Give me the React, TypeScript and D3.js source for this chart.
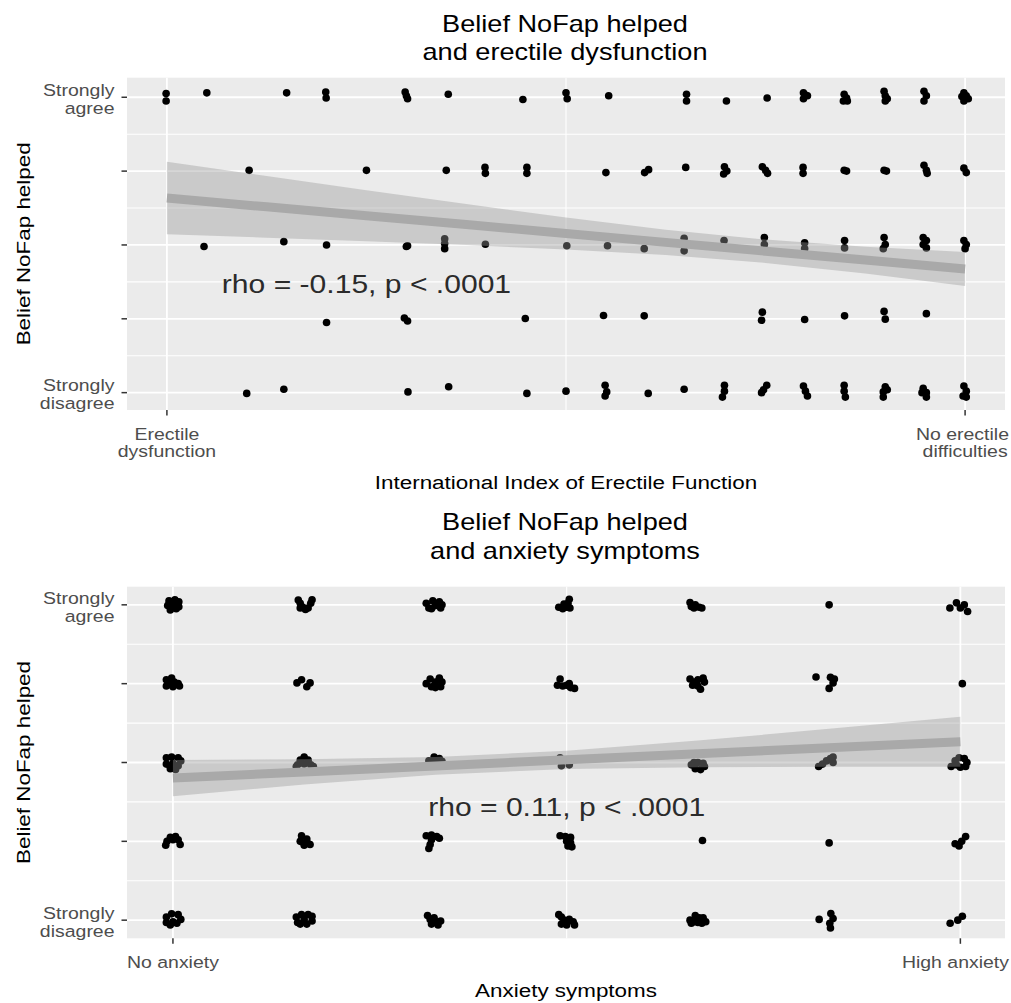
import React from "react";
import * as d3 from "d3";

type Pt = [number, number, number, number]; // [x level, y level, x jitter, y jitter]

// ---------- shared Likert axis ----------
const likertLevels = [1, 2, 3, 4, 5];
const likertMinor = [1.5, 2.5, 3.5, 4.5];
const likertTickLabels: string[][] = [["Strongly", "disagree"], [], [], [], ["Strongly", "agree"]];
const yAxisTitle = "Belief NoFap helped";

// ---------- panel 1: erectile function ----------
const edTitle = ["Belief NoFap helped", "and erectile dysfunction"];
const edXTitle = "International Index of Erectile Function";
const edXTicks = [5, 25];
const edXMinor = [15];
const edXTickLabels: string[][] = [["Erectile", "dysfunction"], ["No erectile", "difficulties"]];
const edRhoLabel = "rho = -0.15, p < .0001";
const edRhoPos = [10, 2.47];
const edFitX = [5, 7.5, 10, 12.5, 15, 17.5, 20, 22.5, 25];
const edFitY = [3.636, 3.516, 3.396, 3.276, 3.155, 3.035, 2.915, 2.795, 2.675];
const edFitLower = [3.145, 3.099, 3.051, 2.999, 2.938, 2.863, 2.757, 2.614, 2.445];
const edFitUpper = [4.127, 3.933, 3.741, 3.553, 3.372, 3.207, 3.073, 2.976, 2.905];
const edPoints: Pt[] = [
  // Strongly agree
  [5, 5, -0.02, 0.05], [5, 5, -0.02, -0.05],
  [6, 5, 0, 0.06],
  [8, 5, 0, 0.06],
  [9, 5, -0.02, 0.07], [9, 5, -0.01, -0.01],
  [11, 5, -0.03, 0.07], [11, 5, 0, 0.02], [11, 5, 0.03, -0.02],
  [12, 5, 0.05, 0.04],
  [14, 5, -0.08, -0.03],
  [15, 5, 0, 0.06], [15, 5, 0.03, -0.02],
  [16, 5, 0.07, 0.02],
  [18, 5, 0.02, 0.04], [18, 5, 0.02, -0.05],
  [19, 5, 0.02, -0.05],
  [20, 5, 0.04, -0.01],
  [21, 5, -0.05, 0.06], [21, 5, 0, 0.03], [21, 5, 0.05, 0.02], [21, 5, -0.05, -0.02],
  [22, 5, -0.03, 0.04], [22, 5, 0.03, -0.01], [22, 5, 0.05, -0.05], [22, 5, -0.05, -0.05],
  [23, 5, -0.03, 0.08], [23, 5, 0, 0.02], [23, 5, 0, -0.05], [23, 5, 0.05, -0.02],
  [24, 5, -0.03, 0.08], [24, 5, 0.03, 0.02], [24, 5, -0.03, -0.05],
  [25, 5, -0.03, 0.06], [25, 5, 0.03, 0.02], [25, 5, 0.08, -0.02], [25, 5, -0.03, -0.05], [25, 5, -0.08, 0.01],
  // 4
  [7, 4, 0.06, 0.01],
  [10, 4, 0, 0.01],
  [12, 4, 0, 0.01],
  [13, 4, -0.03, 0.05], [13, 4, -0.02, -0.03],
  [14, 4, 0.02, 0.05], [14, 4, 0.02, -0.03],
  [16, 4, 0, -0.02],
  [17, 4, -0.03, -0.02], [17, 4, 0.07, 0.02],
  [18, 4, 0, 0.05],
  [19, 4, -0.03, 0.06], [19, 4, 0.03, 0], [19, 4, -0.05, -0.04],
  [20, 4, -0.08, 0.06], [20, 4, 0, 0.01], [20, 4, 0.05, -0.03],
  [21, 4, -0.06, 0.05], [21, 4, -0.06, -0.03],
  [22, 4, -0.03, 0.01], [22, 4, 0.03, 0],
  [23, 4, -0.03, 0.01], [23, 4, 0.03, 0],
  [24, 4, -0.03, 0.08], [24, 4, 0.03, 0.01], [24, 4, 0.05, -0.03],
  [25, 4, -0.03, 0.04], [25, 4, 0.03, -0.02],
  // 3
  [6, 3, -0.07, -0.02],
  [8, 3, -0.07, 0.045],
  [9, 3, 0, 0],
  [11, 3, 0, -0.02], [11, 3, 0.03, -0.01],
  [12, 3, -0.04, 0.085], [12, 3, -0.04, 0.02], [12, 3, -0.04, -0.05],
  [13, 3, -0.02, 0.01],
  [15, 3, 0.02, -0.01],
  [16, 3, 0.04, -0.01],
  [17, 3, -0.04, -0.05],
  [18, 3, -0.04, 0.09], [18, 3, -0.04, -0.08],
  [19, 3, -0.04, 0.06],
  [20, 3, -0.03, 0.1], [20, 3, -0.03, 0.005],
  [21, 3, -0.02, 0.03], [21, 3, -0.02, -0.05],
  [22, 3, -0.02, 0.06], [22, 3, -0.02, -0.04],
  [23, 3, -0.03, 0.1], [23, 3, 0, 0.005], [23, 3, -0.05, -0.05],
  [24, 3, -0.05, 0.1], [24, 3, 0.03, 0.06], [24, 3, -0.05, 0.005], [24, 3, 0.03, -0.04],
  [25, 3, -0.03, 0.06], [25, 3, 0.03, 0.005], [25, 3, 0, -0.05],
  // 2
  [9, 2, 0, -0.05],
  [11, 2, -0.05, 0.01], [11, 2, 0.03, -0.03],
  [14, 2, -0.02, 0.005],
  [16, 2, -0.06, 0.045],
  [17, 2, -0.04, 0.04],
  [20, 2, -0.08, 0.09], [20, 2, -0.1, -0.02],
  [21, 2, -0.02, -0.01],
  [22, 2, -0.02, 0.04],
  [23, 2, -0.03, 0.1], [23, 2, 0, -0.005],
  [24, 2, 0.03, 0.07],
  // Strongly disagree
  [7, 1, 0, -0.01],
  [8, 1, -0.07, 0.045],
  [11, 1, 0.04, 0.01],
  [12, 1, 0.06, 0.08],
  [14, 1, 0.02, -0.01],
  [15, 1, 0, 0.02],
  [16, 1, -0.02, 0.1], [16, 1, 0.02, 0.01], [16, 1, -0.02, -0.045],
  [17, 1, 0.06, -0.01],
  [18, 1, -0.04, 0.045],
  [19, 1, -0.03, 0.1], [19, 1, -0.03, 0.02], [19, 1, -0.08, -0.06],
  [20, 1, 0.03, 0.1], [20, 1, -0.05, 0.04], [20, 1, -0.1, 0],
  [21, 1, -0.05, 0.09], [21, 1, 0, 0.02], [21, 1, 0.05, -0.045],
  [22, 1, -0.03, 0.1], [22, 1, -0.03, 0.02], [22, 1, 0, -0.06],
  [23, 1, 0, 0.08], [23, 1, -0.05, 0.01], [23, 1, -0.05, -0.06], [23, 1, 0.05, 0.04],
  [24, 1, -0.05, 0.06], [24, 1, 0.03, 0], [24, 1, 0.03, -0.06], [24, 1, -0.08, 0],
  [25, 1, -0.03, 0.09], [25, 1, 0.03, 0.02], [25, 1, -0.05, -0.045], [25, 1, 0.03, -0.06],
];

// ---------- panel 2: anxiety ----------
const axTitle = ["Belief NoFap helped", "and anxiety symptoms"];
const axXTitle = "Anxiety symptoms";
const axXTicks = [0, 6];
const axXMinor = [3];
const axXTickLabels: string[][] = [["No anxiety"], ["High anxiety"]];
const axRhoLabel = "rho = 0.11, p < .0001";
const axRhoPos = [3, 2.43];
const axFitX = [0, 1, 2, 3, 4, 5, 6];
const axFitY = [2.803, 2.88, 2.957, 3.034, 3.11, 3.187, 3.264];
const axFitLower = [2.573, 2.72, 2.845, 2.918, 2.941, 2.947, 2.947];
const axFitUpper = [3.033, 3.04, 3.069, 3.15, 3.279, 3.427, 3.581];
const axPoints: Pt[] = [
  // Strongly agree
  [0, 5, -0.03, 0.05], [0, 5, 0.015, 0.065], [0, 5, 0.045, 0.04], [0, 5, -0.04, -0.01], [0, 5, 0.01, 0], [0, 5, 0.045, -0.025], [0, 5, -0.02, -0.065], [0, 5, 0.025, -0.05],
  [1, 5, -0.045, 0.06], [1, 5, -0.03, 0.02], [1, 5, 0.06, 0.065], [1, 5, 0.05, 0.02], [1, 5, -0.01, -0.03], [1, 5, 0.03, -0.04], [1, 5, 0.01, -0.06], [1, 5, -0.03, -0.04],
  [2, 5, -0.07, 0.02], [2, 5, -0.05, -0.04], [2, 5, -0.02, 0.05], [2, 5, 0, -0.01], [2, 5, 0.03, 0.04], [2, 5, 0.05, 0], [2, 5, 0.04, -0.04], [2, 5, -0.03, -0.05],
  [3, 5, -0.06, -0.03], [3, 5, -0.03, -0.05], [3, 5, 0, -0.03], [3, 5, 0.02, 0.07], [3, 5, 0.01, 0.02], [3, 5, -0.02, 0.01], [3, 5, 0.025, -0.04],
  [4, 5, -0.06, 0.03], [4, 5, -0.05, -0.02], [4, 5, -0.02, 0], [4, 5, 0.01, -0.03], [4, 5, 0.03, -0.04], [4, 5, -0.03, -0.04],
  [5, 5, 0, 0],
  [6, 5, -0.08, -0.04], [6, 5, -0.03, 0.025], [6, 5, 0.03, 0], [6, 5, 0.055, -0.085], [6, 5, 0, -0.04],
  // 4
  [0, 4, -0.05, 0.05], [0, 4, -0.01, 0.07], [0, 4, 0.01, 0.02], [0, 4, -0.05, -0.03], [0, 4, 0, -0.04], [0, 4, 0.05, -0.03], [0, 4, 0.04, 0], [0, 4, -0.03, 0],
  [1, 4, -0.055, 0.01], [1, 4, -0.02, 0.05], [1, 4, 0.045, 0.01], [1, 4, 0.02, -0.04],
  [2, 4, -0.07, 0], [2, 4, -0.04, 0.06], [2, 4, -0.03, -0.04], [2, 4, 0, 0.02], [2, 4, 0.03, 0.07], [2, 4, 0.05, 0.02], [2, 4, 0.04, -0.04], [2, 4, 0, -0.05],
  [3, 4, -0.07, -0.02], [3, 4, -0.05, 0.06], [3, 4, -0.03, -0.03], [3, 4, 0, -0.02], [3, 4, 0.03, -0.05], [3, 4, 0.06, -0.06], [3, 4, 0.02, 0],
  [4, 4, -0.06, 0.06], [4, 4, -0.03, 0.02], [4, 4, 0, 0.05], [4, 4, 0.04, 0.07], [4, 4, 0.05, 0.02], [4, 4, 0, -0.03], [4, 4, 0.02, -0.07], [4, 4, -0.04, -0.02],
  [5, 4, -0.1, 0.085], [5, 4, 0.01, 0.08], [5, 4, 0.04, 0.06], [5, 4, 0.03, 0.01], [5, 4, 0, -0.06],
  [6, 4, 0.015, 0],
  // 3
  [0, 3, -0.05, 0.06], [0, 3, -0.01, 0.07], [0, 3, 0.04, 0.06], [0, 3, 0.06, 0.02], [0, 3, -0.05, -0.02], [0, 3, 0, -0.01], [0, 3, 0.04, -0.04], [0, 3, -0.02, -0.08], [0, 3, 0.02, -0.09],
  [1, 3, 0, 0.07], [1, 3, -0.03, 0.03], [1, 3, 0.03, 0.03], [1, 3, -0.05, -0.03], [1, 3, 0, -0.02], [1, 3, 0.05, -0.03], [1, 3, 0.07, -0.05], [1, 3, -0.06, -0.05],
  [2, 3, -0.05, 0.02], [2, 3, -0.01, 0.07], [2, 3, 0.03, 0.05], [2, 3, 0.05, 0.015], [2, 3, 0, 0.02],
  [3, 3, -0.05, 0.06], [3, 3, -0.04, -0.04], [3, 3, 0.02, -0.03],
  [4, 3, -0.05, -0.03], [4, 3, -0.02, -0.08], [4, 3, 0.02, -0.09], [4, 3, 0.05, -0.05], [4, 3, 0, 0], [4, 3, 0.04, -0.01], [4, 3, -0.03, 0],
  [5, 3, -0.08, -0.05], [5, 3, -0.05, -0.02], [5, 3, -0.02, 0.02], [5, 3, 0.01, 0.05], [5, 3, 0.03, 0.07], [5, 3, 0.03, 0],
  [6, 3, -0.07, -0.05], [6, 3, -0.04, 0.02], [6, 3, -0.01, 0.06], [6, 3, 0.03, 0.05], [6, 3, 0.05, 0], [6, 3, 0.04, -0.05], [6, 3, 0, -0.06], [6, 3, -0.03, -0.03],
  // 2
  [0, 2, -0.055, -0.05], [0, 2, -0.045, 0], [0, 2, -0.02, 0.05], [0, 2, 0.02, 0.06], [0, 2, 0.04, 0.02], [0, 2, 0.055, -0.04], [0, 2, 0, 0.02],
  [1, 2, -0.02, 0.07], [1, 2, 0.02, 0.03], [1, 2, -0.03, 0], [1, 2, 0.02, -0.01], [1, 2, 0, -0.05], [1, 2, 0.045, -0.04],
  [2, 2, -0.07, 0.07], [2, 2, -0.03, 0.08], [2, 2, 0.01, 0.06], [2, 2, 0.03, 0.04], [2, 2, -0.03, 0.02], [2, 2, -0.04, -0.04], [2, 2, -0.05, -0.09],
  [3, 2, -0.05, 0.07], [3, 2, -0.01, 0.06], [3, 2, 0.03, 0.05], [3, 2, 0, 0], [3, 2, 0.03, -0.02], [3, 2, 0.04, -0.07], [3, 2, 0.01, -0.06],
  [4, 2, 0.035, 0.01],
  [5, 2, 0, -0.02],
  [6, 2, -0.04, -0.03], [6, 2, -0.01, -0.06], [6, 2, 0.01, 0], [6, 2, 0.04, 0.06],
  // Strongly disagree
  [0, 1, -0.05, 0.04], [0, 1, -0.01, 0.08], [0, 1, 0.04, 0.07], [0, 1, 0.06, 0.01], [0, 1, -0.05, -0.03], [0, 1, 0, -0.02], [0, 1, 0.03, -0.04], [0, 1, -0.02, -0.06],
  [1, 1, -0.06, 0.04], [1, 1, -0.05, -0.03], [1, 1, -0.02, 0.07], [1, 1, 0, 0.01], [1, 1, 0.03, 0.07], [1, 1, 0.06, 0.05], [1, 1, 0.06, -0.01], [1, 1, 0.02, -0.05], [1, 1, -0.03, -0.05],
  [2, 1, -0.06, 0.06], [2, 1, -0.04, 0.01], [2, 1, -0.03, -0.05], [2, 1, 0.01, -0.02], [2, 1, 0.04, -0.01], [2, 1, 0.02, -0.06], [2, 1, -0.01, 0.03],
  [3, 1, -0.06, 0.07], [3, 1, -0.04, 0.04], [3, 1, -0.02, 0], [3, 1, 0.02, 0.01], [3, 1, 0.05, -0.02], [3, 1, 0.06, -0.06], [3, 1, 0, -0.06], [3, 1, -0.04, -0.05],
  [4, 1, -0.06, 0], [4, 1, -0.05, -0.04], [4, 1, -0.02, 0.06], [4, 1, 0.01, 0.03], [4, 1, 0.04, 0.03], [4, 1, 0.06, -0.02], [4, 1, 0.03, -0.04], [4, 1, 0, -0.03], [4, 1, -0.03, -0.02],
  [5, 1, -0.076, 0.01], [5, 1, 0.013, 0.085], [5, 1, 0.005, -0.04], [5, 1, 0.03, 0.02], [5, 1, 0.01, -0.1],
  [6, 1, -0.078, -0.04], [6, 1, -0.02, 0], [6, 1, 0.015, 0.05],
];

// ---------- rendering ----------
const FONT = "'Liberation Sans', Arial, Helvetica, sans-serif";
const SX = 1.18;
const PANEL_L = 127;
const PANEL_R = 1005;
const SVG_W = 1011;

let measureCtx: CanvasRenderingContext2D | null = null;
function textWidth(s: string, size: number): number {
  if (typeof document === "undefined") return s.length * size * 0.55 * SX;
  if (!measureCtx) measureCtx = document.createElement("canvas").getContext("2d");
  if (!measureCtx) return s.length * size * 0.55 * SX;
  measureCtx.font = `${size}px 'Liberation Sans', Arial, sans-serif`;
  return measureCtx.measureText(s).width * SX;
}

function Label(props: {
  x: number; y: number; size: number; anchor?: string; fill?: string; rotate?: boolean; children: React.ReactNode;
}) {
  const { x, y, size, anchor = "middle", fill = "#000", rotate = false, children } = props;
  const t = `translate(${x},${y})${rotate ? " rotate(-90)" : ""} scale(${SX},1)`;
  return (
    <text transform={t} fontSize={size} textAnchor={anchor as any} fill={fill} fontFamily={FONT}>
      {children}
    </text>
  );
}

interface PanelProps {
  top: number; bottom: number;
  xDomain: [number, number]; yDomain: [number, number];
  xTicks: number[]; xMinor: number[]; xTickLabels: string[][];
  title: string[]; titleBase: [number, number];
  xTitle: string; xTitleBase: number;
  rhoLabel: string; rhoPos: number[];
  fitX: number[]; fitY: number[]; fitLo: number[]; fitHi: number[];
  points: Pt[];
}

function Panel(p: PanelProps) {
  const x = d3.scaleLinear().domain(p.xDomain).range([PANEL_L, PANEL_R]);
  const y = d3.scaleLinear().domain(p.yDomain).range([p.bottom, p.top]);
  const idx = p.fitX.map((_, i) => i);
  const area = d3.area<number>()
    .x((i) => x(p.fitX[i]))
    .y0((i) => y(p.fitLo[i]))
    .y1((i) => y(p.fitHi[i]));
  const line = d3.line<number>()
    .x((i) => x(p.fitX[i]))
    .y((i) => y(p.fitY[i]));
  const cx = (PANEL_L + PANEL_R) / 2;
  const cy = (p.top + p.bottom) / 2;
  const tickSize = 16.5;
  return (
    <g>
      <rect x={PANEL_L} y={p.top} width={PANEL_R - PANEL_L} height={p.bottom - p.top} fill="#ebebeb" />
      {likertMinor.map((v) => (
        <line key={"ym" + v} x1={PANEL_L} x2={PANEL_R} y1={y(v)} y2={y(v)} stroke="#fff" strokeWidth={1.1} />
      ))}
      {p.xMinor.map((v) => (
        <line key={"xm" + v} x1={x(v)} x2={x(v)} y1={p.top} y2={p.bottom} stroke="#fff" strokeWidth={1.1} />
      ))}
      {likertLevels.map((v) => (
        <line key={"yM" + v} x1={PANEL_L} x2={PANEL_R} y1={y(v)} y2={y(v)} stroke="#fff" strokeWidth={1.8} />
      ))}
      {p.xTicks.map((v) => (
        <line key={"xM" + v} x1={x(v)} x2={x(v)} y1={p.top} y2={p.bottom} stroke="#fff" strokeWidth={1.8} />
      ))}
      {p.points.map((d, i) => (
        <circle key={i} cx={x(d[0] + d[2])} cy={y(d[1] + d[3])} r={3.8} fill="#000" />
      ))}
      <path d={area(idx) || ""} fill="#999999" fillOpacity={0.4} />
      <path d={line(idx) || ""} fill="none" stroke="#a9a9a9" strokeWidth={9} />
      <Label x={x(p.rhoPos[0])} y={y(p.rhoPos[1]) + 9} size={25.5} fill="#2b2b2b">{p.rhoLabel}</Label>
      {/* y axis */}
      {likertLevels.map((v, i) => (
        <g key={"yt" + v}>
          <line x1={PANEL_L - 5.5} x2={PANEL_L} y1={y(v)} y2={y(v)} stroke="#333" strokeWidth={1.5} />
          {likertTickLabels[i].map((s, j) => (
            <Label key={j} x={114.5} y={y(v) - 1.2 + j * 18} size={tickSize} anchor="end" fill="#4d4d4d">{s}</Label>
          ))}
        </g>
      ))}
      {/* x axis */}
      {p.xTicks.map((v, i) => (
        <g key={"xt" + v}>
          <line x1={x(v)} x2={x(v)} y1={p.bottom} y2={p.bottom + 5.5} stroke="#333" strokeWidth={1.5} />
          {p.xTickLabels[i].map((s, j) => {
            const half = textWidth(s, tickSize) / 2;
            const lx = Math.min(x(v), SVG_W - 2 - half);
            return (
              <Label key={j} x={lx} y={p.bottom + 29.5 + j * 17} size={tickSize} fill="#4d4d4d">{s}</Label>
            );
          })}
        </g>
      ))}
      <Label x={cx} y={p.xTitleBase} size={19}>{p.xTitle}</Label>
      <Label x={30} y={cy} size={19} rotate>{yAxisTitle}</Label>
      {p.title.map((s, j) => (
        <Label key={j} x={565} y={p.titleBase[j]} size={23}>{s}</Label>
      ))}
    </g>
  );
}

export default function App() {
  return (
    <div style={{ position: "absolute", left: 0, top: 0 }}>
      <svg width={1011} height={1003} viewBox="0 0 1011 1003" style={{ display: "block", background: "#fff" }}>
        <rect width={1011} height={1003} fill="#fff" />
        <Panel
          top={77.7} bottom={410}
          xDomain={[4, 26]} yDomain={[0.765, 5.265]}
          xTicks={edXTicks} xMinor={edXMinor} xTickLabels={edXTickLabels}
          title={edTitle} titleBase={[31.5, 60]}
          xTitle={edXTitle} xTitleBase={488.5}
          rhoLabel={edRhoLabel} rhoPos={edRhoPos}
          fitX={edFitX} fitY={edFitY} fitLo={edFitLower} fitHi={edFitUpper}
          points={edPoints}
        />
        <Panel
          top={586.7} bottom={938.3}
          xDomain={[-0.35, 6.34]} yDomain={[0.77, 5.23]}
          xTicks={axXTicks} xMinor={axXMinor} xTickLabels={axXTickLabels}
          title={axTitle} titleBase={[529.5, 558.5]}
          xTitle={axXTitle} xTitleBase={997}
          rhoLabel={axRhoLabel} rhoPos={axRhoPos}
          fitX={axFitX} fitY={axFitY} fitLo={axFitLower} fitHi={axFitUpper}
          points={axPoints}
        />
      </svg>
    </div>
  );
}
